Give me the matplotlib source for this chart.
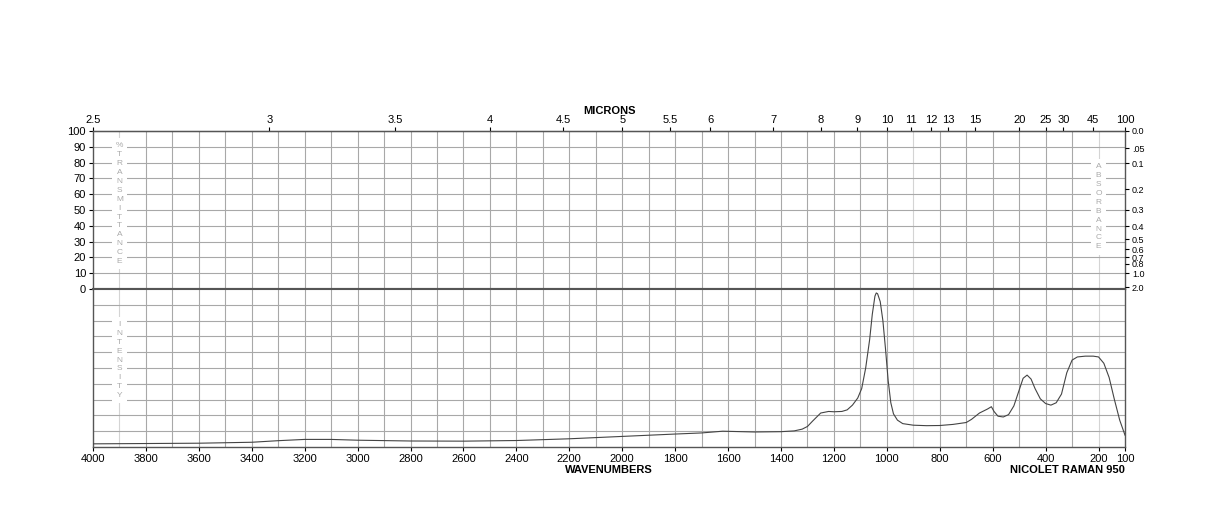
import matplotlib
matplotlib.use("Agg")
import matplotlib.pyplot as plt
import numpy as np

wavenumber = [4000, 3800, 3600, 3400, 3300, 3200, 3100, 3000, 2800, 2600, 2400, 2200, 2000, 1800,
              1700, 1620, 1500, 1400, 1350, 1320, 1300, 1280, 1250, 1220, 1200, 1170, 1150, 1130,
              1110, 1095, 1080, 1065, 1055, 1045, 1040, 1035, 1025, 1015, 1005, 995, 985, 975,
              960, 940, 900, 850, 800, 750, 700, 680, 650, 620, 605, 595, 580, 560, 540, 520,
              500, 485, 470, 455, 440, 420, 400, 380, 360, 340, 320, 300, 280, 250, 220, 200,
              180, 160, 140, 120, 100]
intensity = [2.0, 2.2, 2.4, 3.0, 4.0, 4.8, 4.8, 4.3, 3.8, 3.7, 4.1, 5.2, 6.7, 8.2,
             8.9, 10.0, 9.5, 9.7, 10.2, 11.3, 13.0, 16.5, 21.5, 22.5, 22.3, 22.5, 23.5, 26.5,
             31.0, 37.0, 50.0, 68.0, 84.0, 95.5, 97.5, 97.0, 92.0, 80.0, 62.0, 42.0, 28.0, 21.0,
             17.0, 14.8, 13.8, 13.5, 13.6, 14.3, 15.5, 17.5, 21.5, 24.0, 25.5, 22.5, 19.5, 19.0, 20.5, 26.0,
             36.0, 43.5, 45.5, 43.0, 37.0, 30.5, 27.5, 26.5, 28.0, 33.5, 47.0, 55.0, 57.0, 57.5, 57.5, 57.0,
             53.0, 44.0, 30.0, 17.0, 7.5]

micron_ticks = [2.5, 3, 3.5, 4, 4.5, 5, 5.5, 6, 7, 8, 9, 10, 11, 12, 13, 15, 20, 25, 30, 45, 100]
absorb_ticks = [0.0, 0.05, 0.1, 0.2, 0.3, 0.4, 0.5, 0.6, 0.7, 0.8, 1.0, 2.0]
absorb_labels = ["0.0", ".05", "0.1", "0.2", "0.3", "0.4", "0.5", "0.6", "0.7", "0.8", "1.0", "2.0"]

plt.rcParams['font.family'] = ['Liberation Sans', 'DejaVu Sans']
fig = plt.figure(figsize=(12.24, 5.28), dpi=100)
L, R = 93/1224, 1125/1224
top = fig.add_axes([L, 1-289/528, R-L, 158/528])
bot = fig.add_axes([L, 1-447/528, R-L, 158/528])

for ax in (top, bot):
    ax.set_xlim(4000, 100)
    ax.set_ylim(0, 100)
    for w in range(3900, 100, -100):
        c = '#d4d4d4' if w in (3900, 900, 200) else '#a8a8a8'
        ax.axvline(w, color=c, lw=0.8, zorder=0)
    for yv in range(10, 100, 10):
        ax.axhline(yv, color='#a8a8a8', lw=0.8, zorder=0)
    for s in ax.spines.values():
        s.set_color('#555555'); s.set_linewidth(1.0)

top.spines['bottom'].set_linewidth(1.5)
bot.spines['top'].set_linewidth(1.5)

top.set_yticks(range(0, 101, 10))
top.set_yticklabels([str(v) for v in range(0, 101, 10)], fontsize=8)
top.set_xticks([])
top.tick_params(axis='y', length=3, pad=2)
sec = top.secondary_xaxis('top', functions=(lambda w: w, lambda w: w))
sec.set_xticks([10000/m for m in micron_ticks])
sec.set_xticklabels([('%g' % m) for m in micron_ticks], fontsize=8)
sec.tick_params(length=3, pad=1)
sec.set_xlabel('MICRONS', fontsize=8, fontweight='bold', labelpad=1)
ra = top.twinx()
ra.set_ylim(0, 100)
ra.set_yticks([100*10**(-a) for a in absorb_ticks])
ra.set_yticklabels(absorb_labels, fontsize=6.5)
ra.tick_params(length=3, pad=2)
for s in ra.spines.values():
    s.set_visible(False)

def vlabel(ax, x, text, y=50):
    ax.text(x, y, "\n".join(text), ha='center', va='center', fontsize=6, color='#aaaaaa',
            linespacing=1.38, zorder=2,
            bbox=dict(facecolor='white', edgecolor='none', pad=3))

vlabel(top, 3900, "%TRANSMITTANCE", 54)
vlabel(top, 200, "ABSORBANCE", 52)
vlabel(bot, 3900, "INTENSITY", 55)

bot.set_yticks([])
bot.set_xticks(list(range(4000, 100, -200)) + [100])
bot.set_xticklabels([str(v) for v in list(range(4000, 100, -200)) + [100]], fontsize=8)
bot.tick_params(axis='x', length=3, pad=2)
bot.set_xlabel('WAVENUMBERS', fontsize=8, fontweight='bold', labelpad=1)
bot.plot(wavenumber, intensity, color='#444444', lw=0.8, zorder=3)
fig.text(R, 1-470/528, 'NICOLET RAMAN 950', ha='right', va='center', fontsize=8, fontweight='bold')

fig.savefig('out.png', dpi=100)
